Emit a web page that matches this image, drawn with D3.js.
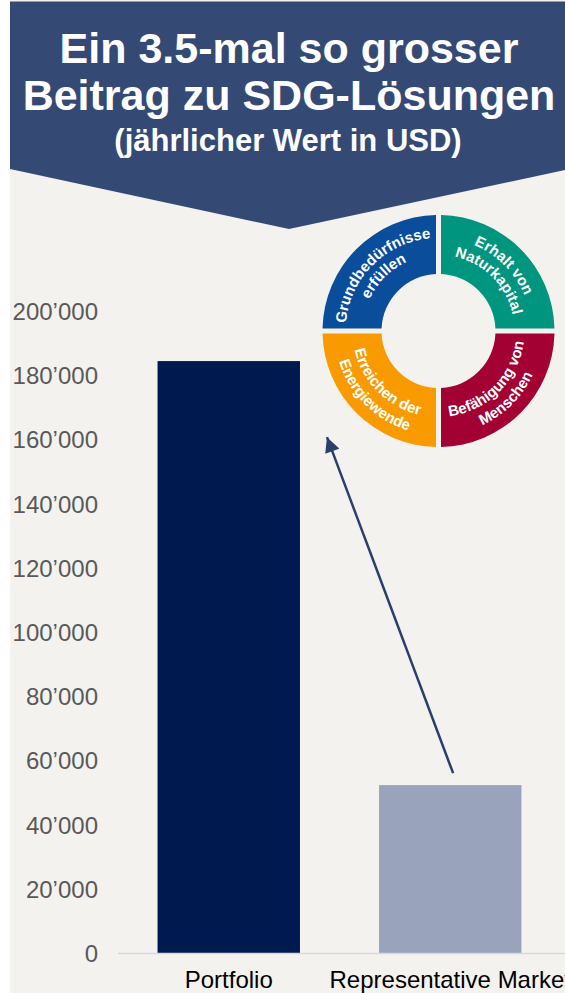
<!DOCTYPE html>
<html>
<head>
<meta charset="utf-8">
<script src="https://cdn.jsdelivr.net/npm/d3@7"></script>
<style>
  html, body { margin: 0; padding: 0; background: #ffffff; }
  svg { display: block; }
</style>
</head>
<body>
<svg id="chart" width="565" height="993"></svg>
<script>
// ---------- DATA ----------
const categories = ["Portfolio", "Representative Market"];
const values = [184400, 52300];
const tickValues = [0, 20000, 40000, 60000, 80000, 100000, 120000, 140000, 160000, 180000, 200000];
const titleLines = ["Ein 3.5-mal so grosser", "Beitrag zu SDG-Lösungen"];
const subtitle = "(jährlicher Wert in USD)";
const donutSegments = ["top-left", "top-right", "bottom-right", "bottom-left"];
const donutLabels = [
  ["Grundbedürfnisse", "erfüllen"],
  ["Erhalt von", "Naturkapital"],
  ["Befähigung von", "Menschen"],
  ["Erreichen der", "Energiewende"]
];
const donutColors = ["#0a4e9b", "#00957f", "#a30034", "#f99b00"];
const barColors = ["#001a4f", "#99a4bc"];

// ---------- SETUP ----------
const W = 565, H = 993;
const svg = d3.select("#chart");
const FONT = "'Liberation Sans', Arial, sans-serif";
const BG = "#f3f2ef";
const HEADER = "#344a74";

// page background (slide area)
svg.append("rect").attr("x", 10).attr("y", 0).attr("width", W - 10).attr("height", H).attr("fill", BG);

// header pentagon
svg.append("path")
  .attr("d", `M10,1.5 L565,1.5 L565,170 L289,229 L10,169 Z`)
  .attr("fill", HEADER);

const title = svg.append("g").attr("font-family", FONT).attr("font-weight", "bold")
  .attr("fill", "#ffffff").attr("text-anchor", "middle");
title.selectAll("text.t").data(titleLines).join("text")
  .attr("class", "t")
  .attr("x", 289).attr("y", (d, i) => 63 + i * 47)
  .attr("font-size", 43)
  .text(d => d);
title.append("text").attr("x", 288).attr("y", 151).attr("font-size", 31).text(subtitle);

// ---------- SCALES ----------
const y = d3.scaleLinear().domain([0, 200000]).range([953, 311]);
const x = d3.scaleBand().domain(categories).range([118, 561]).paddingInner(0.357).paddingOuter(0.1785);

const locale = d3.formatLocale({ decimal: ".", thousands: "’", grouping: [3], currency: ["", ""] });
const fmt = locale.format(",");

// y axis
const yAxis = d3.axisLeft(y).tickValues(tickValues).tickFormat(fmt).tickSize(0).tickPadding(0);
const gy = svg.append("g").attr("transform", "translate(98,0)").call(yAxis);
gy.select(".domain").remove();
gy.selectAll("text").attr("font-family", FONT).attr("font-size", 24).attr("fill", "#595959").attr("dy", "0.35em");

// bars
svg.append("g").selectAll("rect").data(values).join("rect")
  .attr("x", (d, i) => x(categories[i]))
  .attr("y", d => y(d))
  .attr("width", x.bandwidth())
  .attr("height", d => y(0) - y(d))
  .attr("fill", (d, i) => barColors[i]);

// baseline
svg.append("line").attr("x1", 118).attr("x2", 565).attr("y1", y(0) + 0.5).attr("y2", y(0) + 0.5)
  .attr("stroke", "#d9d9d9").attr("stroke-width", 1.5);

// x axis labels
const xAxis = d3.axisBottom(x).tickSize(0).tickPadding(0);
const gx = svg.append("g").attr("transform", `translate(0,${y(0)})`).call(xAxis);
gx.select(".domain").remove();
gx.selectAll("text").attr("font-family", FONT).attr("font-size", 24).attr("fill", "#000000")
  .attr("dy", null).attr("y", 35);

// ---------- DONUT ----------
const cx = 438.5, cy = 331, rOuter = 116, rInner = 57;
const dg = svg.append("g").attr("transform", `translate(${cx},${cy})`);
const pie = d3.pie().value(1).sort(null).startAngle(-Math.PI / 2).endAngle(3 * Math.PI / 2);
const arcs = pie(donutSegments);
const arcGen = d3.arc().innerRadius(rInner).outerRadius(rOuter).padAngle(5 / 116).padRadius(116);
dg.selectAll("path.seg").data(arcs).join("path")
  .attr("class", "seg")
  .attr("d", arcGen)
  .attr("fill", (d, i) => donutColors[i]);

// text paths
function arcD(r, a0, a1) {
  // angles in degrees, clockwise from top
  const p = a => [r * Math.sin(a * Math.PI / 180), -r * Math.cos(a * Math.PI / 180)];
  const [x0, y0] = p(a0), [x1, y1] = p(a1);
  const sweep = a1 > a0 ? 1 : 0;
  return `M${x0},${y0} A${r},${r} 0 0 ${sweep} ${x1},${y1}`;
}
const defs = svg.append("defs");
// quadrant angle ranges (degrees) & text direction
const quad = [
  { a0: -90, a1: 0, radii: [93, 76] },     // top-left, clockwise
  { a0: 0, a1: 90, radii: [93, 76] },      // top-right, clockwise
  { a0: 180, a1: 90, radii: [86, 104] },   // bottom-right, counterclockwise
  { a0: 270, a1: 180, radii: [86, 104] }   // bottom-left, counterclockwise
];
quad.forEach((q, qi) => {
  donutLabels[qi].forEach((line, li) => {
    const id = `tp-${qi}-${li}`;
    defs.append("path").attr("id", id).attr("d", arcD(q.radii[li], q.a0, q.a1));
    dg.append("text")
      .attr("font-family", FONT).attr("font-weight", "bold").attr("font-size", 15)
      .attr("fill", "#ffffff")
      .append("textPath").attr("href", `#${id}`).attr("startOffset", "50%")
      .attr("text-anchor", "middle").text(line);
  });
});

// ---------- ARROW ----------
defs.append("marker").attr("id", "ah").attr("viewBox", "0 0 10 10")
  .attr("refX", 10).attr("refY", 5).attr("markerWidth", 6.5).attr("markerHeight", 6)
  .attr("markerUnits", "strokeWidth").attr("orient", "auto")
  .append("path").attr("d", "M0,0 L10,5 L0,10 Z").attr("fill", "#2c3f6b");
const tail = [x(categories[1]) + x.bandwidth() * 0.52, y(values[1]) - 12];
const head = [x(categories[0]) + x.bandwidth() + 27, y(160700)];
svg.append("line")
  .attr("x1", tail[0]).attr("y1", tail[1]).attr("x2", head[0]).attr("y2", head[1])
  .attr("stroke", "#2c3f6b").attr("stroke-width", 2.5).attr("marker-end", "url(#ah)");
</script>
</body>
</html>
